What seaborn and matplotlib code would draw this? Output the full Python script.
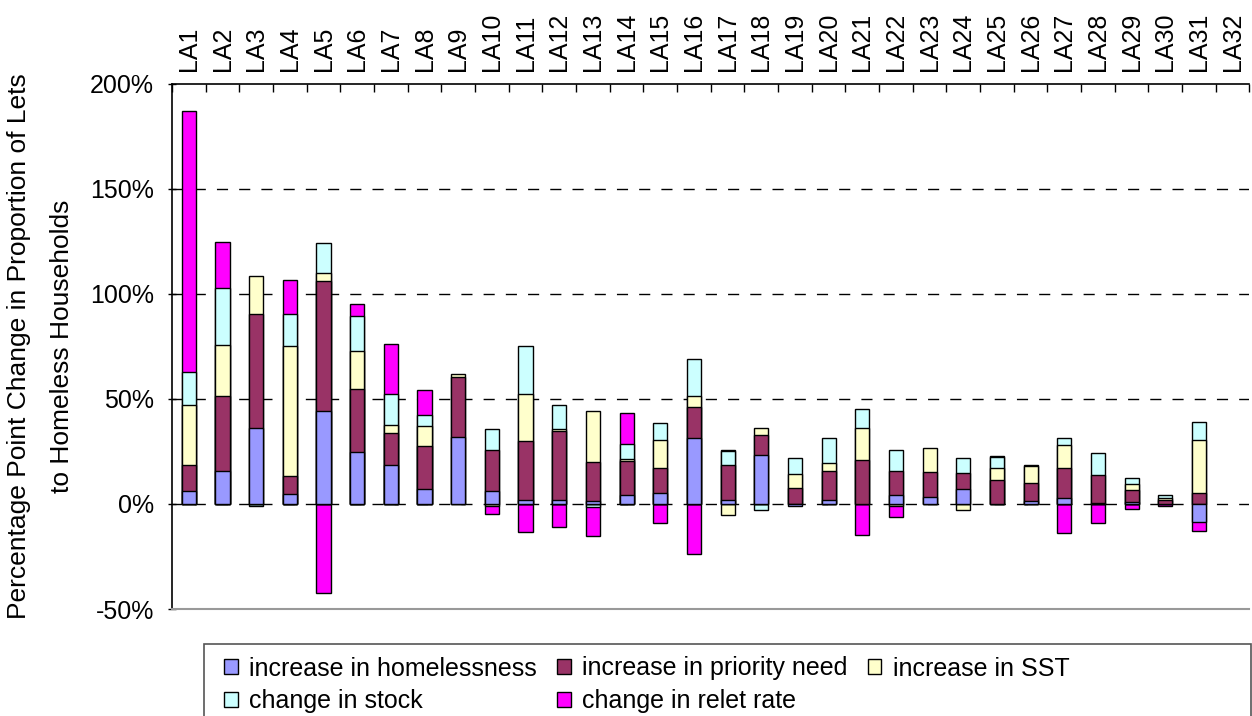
import numpy as np
import pandas as pd
import matplotlib
matplotlib.use('Agg')
import matplotlib.pyplot as plt
from matplotlib.patches import Patch, Rectangle
from matplotlib.ticker import FuncFormatter
import seaborn as sns

# data (percentage points)
authorities = ['LA%d' % i for i in range(1, 33)]
homelessness = [6.3, 15.6, 36.3, 4.9, 44.4, 24.6, 18.5, 7.3, 31.8, 6.2, 1.9, 1.9, 1.3, 4.1, 5.2, 31.4,
                1.7, 23.3, -1.0, 1.7, 0, 4.4, 3.3, 7.0, 0, 1.3, 2.8, 0.5, 0.8, 0, -8.5, 0]
priority_need = [12.2, 35.6, 54.2, 8.5, 61.9, 30.0, 15.4, 20.5, 28.8, 19.3, 28.1, 32.8, 18.5, 16.5, 11.9, 14.6,
                 17.0, 9.6, 7.8, 14.0, 20.7, 11.1, 11.9, 7.6, 11.2, 8.5, 14.1, 13.1, 5.8, 1.7, 5.2, 0]
sst = [28.5, 24.6, 17.8, 61.9, 3.7, 18.1, 3.6, 9.5, 1.0, -1.0, 22.5, 0.8, 24.6, 0.6, 13.2, 5.6,
       -5.2, 3.4, 6.6, 3.7, 15.5, -1.1, 11.4, -3.0, 6.0, 8.1, 11.3, 0, 2.7, 0.9, 25.3, 0]
stock = [16.0, 27.1, -1.2, 14.9, 14.0, 16.6, 14.7, 4.9, 0, 10.3, 22.5, 11.7, -1.6, 7.1, 8.0, 17.4,
         6.4, -3.0, 7.7, 12.0, 9.1, 10.4, 0, 7.1, 5.3, 0.6, 3.4, 10.8, 3.0, 1.7, 8.4, 0]
relet_rate = [124.0, 21.7, 0, 16.4, -42.4, 6.0, 23.9, 12.1, 0, -3.9, -13.4, -10.8, -13.8, 15.0, -9.2, -23.8,
              0.8, 0, 0, 0, -14.6, -4.9, 0, 0, 0.4, 0, -13.9, -9.3, -2.2, -1.1, -4.3, 0]

series = ['increase in homelessness', 'increase in priority need', 'increase in SST',
          'change in stock', 'change in relet rate']
colors = ['#9999FF', '#993366', '#FFFFCC', '#CCFFFF', '#FF00FF']

df = pd.DataFrame({'LA': authorities, series[0]: homelessness, series[1]: priority_need,
                   series[2]: sst, series[3]: stock, series[4]: relet_rate})

# cumulative stacks, positives upward and negatives downward (Excel style)
vals = df[series].to_numpy()
pos_cum = np.cumsum(np.clip(vals, 0, None), axis=1)
neg_cum = np.cumsum(np.clip(vals, None, 0), axis=1)
tops = np.where(vals > 0, pos_cum, np.where(vals < 0, neg_cum, np.nan))

sns.set_style('white')
plt.rcParams['font.family'] = ['Liberation Sans', 'DejaVu Sans']
plt.rcParams['text.color'] = 'black'
plt.rcParams['axes.labelcolor'] = 'black'
plt.rcParams['xtick.color'] = 'black'
plt.rcParams['ytick.color'] = 'black'

fig = plt.figure(figsize=(12.52, 7.16), dpi=100)
ax = fig.add_axes([0.1374, 0.1494, 0.8606, 0.7338])

# draw from last series to first so lower segments cover the bars behind them
for k in range(len(series) - 1, -1, -1):
    sns.barplot(x=df['LA'], y=tops[:, k], order=authorities, color=colors[k], saturation=1,
                width=0.42, edgecolor='black', linewidth=1.0, errorbar=None, ax=ax, zorder=3)

ax.set_ylim(-50, 200)
ax.set_xlim(-0.5, 31.5)
ax.set_yticks([-50, 0, 50, 100, 150, 200])
ax.yaxis.set_major_formatter(FuncFormatter(lambda v, p: '%d%%' % v))
for g in [0, 50, 100, 150]:
    ax.axhline(g, color='black', lw=1.0, ls=(0, (8, 8)), zorder=1)

ax.xaxis.tick_top()
ax.set_xticks(range(len(authorities)))
ax.set_xticklabels(authorities, rotation=90)
ax.set_xticks(np.arange(-0.5, 32, 1), minor=True)
ax.tick_params(axis='x', which='major', length=0, pad=9, labelsize=18, top=True, bottom=False)
ax.tick_params(axis='x', which='minor', length=6, direction='in', top=True, bottom=False, width=1)
ax.tick_params(axis='y', which='major', length=6, direction='inout', left=True, pad=10, labelsize=18, width=1)
ax.set_xlabel('')

ax.set_ylabel('Percentage Point Change in Proportion of Lets\nto Homeless Households',
              fontsize=19, linespacing=2.0)
ax.yaxis.set_label_coords(-0.091, 0.5)

for s in ['top', 'left']:
    ax.spines[s].set_color('black')
    ax.spines[s].set_linewidth(1.2)
ax.spines['bottom'].set_color('#999999')
ax.spines['bottom'].set_linewidth(1.5)
ax.spines['right'].set_visible(False)

# legend, laid out row by row as in the original
handles = [Patch(facecolor=c, edgecolor='black', linewidth=1.0) for c in colors]
order = [0, 3, 1, 4, 2]
fig.legend([handles[i] for i in order], [series[i] for i in order], ncol=3,
           loc='upper left', bbox_to_anchor=(202 / 1252, 1 - 634 / 716), frameon=False,
           fontsize=18, handlelength=0.55, handleheight=0.55, handletextpad=0.45,
           columnspacing=0.8, labelspacing=0.35, borderpad=0.4)
fig.patches.append(Rectangle((204 / 1252, -0.05), (1251 - 204) / 1252, 0.05 + 1 - 644 / 716,
                             transform=fig.transFigure, fill=False, edgecolor='#555555', lw=1.2))

plt.savefig('out.png', dpi=100)
